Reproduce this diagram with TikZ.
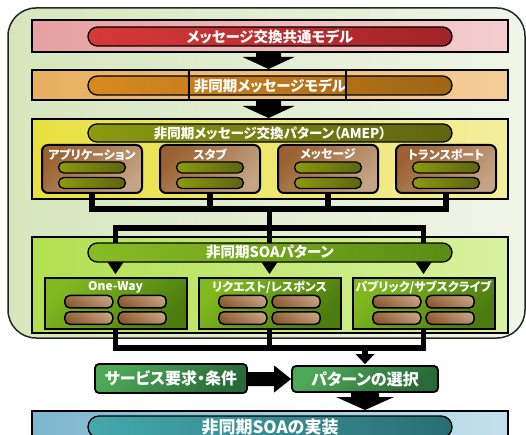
\documentclass[tikz,border=0pt]{standalone}
\usepackage{fontspec}
\setmainfont{Noto Sans CJK JP}[RawFeature=+palt]
\usetikzlibrary{calc}
\definecolor{ouL}{HTML}{D6E6BC}\definecolor{ouR}{HTML}{F0F5E8}
\definecolor{rbL}{HTML}{E8A0A0}\definecolor{rbR}{HTML}{F5CDCD}
\definecolor{rpL}{HTML}{D83838}\definecolor{rpR}{HTML}{A02428}
\definecolor{obL}{HTML}{E8B060}\definecolor{obR}{HTML}{F3CD98}
\definecolor{opL}{HTML}{D88A20}\definecolor{opR}{HTML}{A06414}
\definecolor{ybL}{HTML}{E8E040}\definecolor{ybR}{HTML}{F3EE9E}
\definecolor{olL}{HTML}{8C9A10}\definecolor{olR}{HTML}{5E6410}
\definecolor{brA}{HTML}{9A6232}\definecolor{brB}{HTML}{C4A484}
\definecolor{gbL}{HTML}{B0E050}\definecolor{gbR}{HTML}{D8F2A0}
\definecolor{gpL}{HTML}{88BC24}\definecolor{gpR}{HTML}{5A8C14}
\definecolor{gsA}{HTML}{80B820}\definecolor{gsB}{HTML}{4C7C10}
\definecolor{bpA}{HTML}{C4A080}\definecolor{bpB}{HTML}{8E5A30}
\definecolor{btA}{HTML}{4EA858}\definecolor{btB}{HTML}{286A38}
\definecolor{bbL}{HTML}{7EB6CE}\definecolor{bbR}{HTML}{C2E0EC}
\definecolor{tpL}{HTML}{44A8AC}\definecolor{tpR}{HTML}{286E74}
\newcommand{\fatdown}[5]{\fill let \p1=(#1), \p2=(#2) in (\x1-#3,\y1) -- (\x1+#3,\y1) -- (\x1+#3,\y2+#5) -- (\x1+#4,\y2+#5) -- (\x1,\y2) -- (\x1-#4,\y2+#5) -- (\x1-#3,\y2+#5) -- cycle;}
\begin{document}
\begin{tikzpicture}[x=1pt,y=-1pt,
  box/.style={draw=black,line width=2pt,inner sep=0pt,minimum width=476pt},
  bigpill/.style={draw=black,line width=1.3pt,rounded corners=9.5pt,inner sep=0pt,minimum width=364pt,minimum height=19pt,text=white,font=\bfseries\fontsize{14.5}{15}\selectfont},
  subA/.style={draw=black,line width=2pt,rounded corners=6pt,inner sep=0pt,minimum width=100pt,minimum height=48pt,top color=brA,bottom color=brB,shading angle=45},
  olive/.style={draw=black,line width=1.3pt,rounded corners=5.5pt,inner sep=0pt,minimum width=67pt,minimum height=11pt,left color=olL,right color=olR},
  subB/.style={draw=black,line width=2pt,inner sep=0pt,minimum width=142pt,minimum height=51pt,top color=gsA,bottom color=gsB,shading angle=45},
  brpill/.style={draw=black,line width=1.5pt,rounded corners=5pt,inner sep=0pt,minimum width=48pt,minimum height=12.5pt,top color=bpA,bottom color=bpB,shading angle=-30},
  lab/.style={text=white,font=\bfseries\fontsize{12}{12}\selectfont,inner sep=0pt},
  btn/.style={draw=black,line width=1.8pt,rounded corners=4pt,inner sep=0pt,top color=btA,bottom color=btB,shading angle=45,text=white,font=\bfseries\fontsize{16}{16}\selectfont},
  conn/.style={line width=5.5pt,draw=black},
]
\useasboundingbox (0,0) rectangle (526,435);
\fill[white] (0,0) rectangle (526,435);
% outer panel
\draw[rounded corners=28pt,line width=1.5pt,draw=black!85,left color=ouL,right color=ouR] (8,8) rectangle (525,338);
% layer 1
\node[box,minimum height=32pt,left color=rbL,right color=rbR] (b1) at (270,36) {};
\node[bigpill,left color=rpL,right color=rpR] (p1) at (270,36.5) {メッセージ交換共通モデル};
% layer 2
\node[box,minimum height=30pt,left color=obL,right color=obR] (b2) at (270,85) {};
\node[bigpill,left color=opL,right color=opR] (p2) at (270,85.5) {非同期メッセージモデル};
\draw[line width=1.2pt] (b2.north -| 189,0) -- (b2.south -| 189,0);
\draw[line width=1.2pt] (b2.north -| 346,0) -- (b2.south -| 346,0);
\fatdown{[xshift=-1.5pt]b1.south}{[xshift=-1.5pt]b2.north}{12.5pt}{26pt}{12pt}
% layer 3
\node[box,minimum height=80pt,left color=ybL,right color=ybR] (b3) at (270,159) {};
\node[bigpill,minimum height=18pt,rounded corners=9pt,left color=olL,right color=olR,font=\bfseries\fontsize{13.5}{14}\selectfont] (p3) at (270,133) {非同期メッセージ交換パターン（AMEP）};
\fatdown{[xshift=-1.5pt]b2.south}{[xshift=-1.5pt]b3.north}{12.5pt}{26pt}{12pt}
\foreach \n/\x/\t in {sa/92/アプリケーション,sb/210/スタブ,sc/328/メッセージ,sd/446/トランスポート}{
  \node[subA] (\n) at (\x,169) {};
  \node[lab] (\n-l) at (\x,154.5) {\t};
  \node[olive] (\n-1) at (\x,167.5) {};
  \node[olive] (\n-2) at (\x,183) {};
}
\coordinate (h1) at (269.5,209);
\coordinate (h2) at (269.5,228);
\draw[conn] (sa.south) |- (sd.south |- h1) -- (sd.south);
\draw[conn] (sb.south) -- (sb.south |- h1);
\draw[conn] (sc.south) -- (sc.south |- h1);
% layer 4
\node[box,minimum height=96pt,left color=gbL,right color=gbR] (b4) at (270,285) {};
\node[subB] (oa) at (115.5,303.5) {};
\node[subB] (ob) at (269.5,303.5) {};
\node[subB] (oc) at (423.5,303.5) {};
\coordinate (ta) at ([yshift=3pt]oa.north);
\coordinate (tb) at ([yshift=3pt]ob.north);
\coordinate (tc) at ([yshift=3pt]oc.north);
\draw[conn] ([yshift=12pt]ta) |- (tc |- h2) -- ([yshift=12pt]tc);
\draw[conn] (h1) -- ([yshift=12pt]tb);
\foreach \t in {ta,tb,tc}{\fill (\t) -- ++(-8.5pt,12.5pt) -- ++(17pt,0pt) -- cycle;}
\node[bigpill,left color=gpL,right color=gpR] (p4) at (270,252.5) {非同期SOAパターン};
\node[lab] (oa-l) at (115.5,287) {One-Way};
\node[lab] (ob-l) at (269.5,287) {リクエスト/レスポンス};
\node[lab] (oc-l) at (423.5,287) {パブリック/サブスクライブ};
\foreach \n in {oa,ob,oc}{
  \node[brpill] (\n-1) at ([xshift=-26.7pt,yshift=1.8pt]\n.center) {};
  \node[brpill] (\n-2) at ([xshift=26.7pt,yshift=1.8pt]\n.center) {};
  \node[brpill] (\n-3) at ([xshift=-26.7pt,yshift=-14.5pt]\n.center) {};
  \node[brpill] (\n-4) at ([xshift=26.7pt,yshift=-14.5pt]\n.center) {};
}
% bottom
\node[btn,minimum width=152pt,minimum height=29pt] (req) at (171,378.5) {サービス要求・条件};
\node[btn,minimum width=146pt,minimum height=26pt] (sel) at (365,379) {パターンの選択};
\coordinate (h3) at (365,348);
\draw[conn] (oa.south) |- (oc.south |- h3) -- (oc.south);
\draw[conn] (ob.south) -- (ob.south |- h3);
\draw[conn] (h3) -- ([yshift=11pt]sel.north);
\fill ([yshift=1pt]sel.north) -- ++(-9.5pt,10pt) -- ++(19pt,0pt) -- cycle;
\fill let \p1=(req.east), \p2=(sel.west) in (\x1,\y2+7pt) -- (\x2-17pt,\y2+7pt) -- (\x2-17pt,\y2+13.5pt) -- (\x2,\y2) -- (\x2-17pt,\y2-13.5pt) -- (\x2-17pt,\y2-7pt) -- (\x1,\y2-7pt) -- cycle;
\node[box,minimum height=40pt,left color=bbL,right color=bbR] (b5) at (270,431) {};
\fatdown{sel.south}{b5.north}{14pt}{29pt}{13pt}
\node[bigpill,minimum height=22pt,rounded corners=11pt,left color=tpL,right color=tpR,font=\bfseries\fontsize{17}{17}\selectfont] (p5) at (270,427) {非同期SOAの実装};
\end{tikzpicture}
\end{document}
